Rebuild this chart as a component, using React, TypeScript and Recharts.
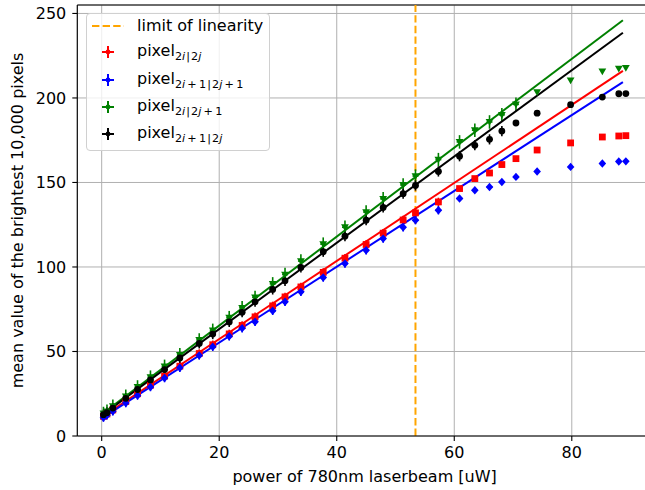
import React from 'react';
import { ComposedChart, Scatter, Line, XAxis, YAxis, CartesianGrid, ReferenceLine, ErrorBar, Legend, Label } from 'recharts';

// laser power [uW]
const power = [0.3, 0.9, 1.9, 4.1, 6.1, 8.3, 10.7, 13.3, 16.6, 18.9, 21.7, 23.9, 26.1, 29.1, 31.2, 33.9, 37.7, 41.4, 45.0, 47.9, 51.3, 53.4, 57.3, 60.9, 63.5, 66.0, 68.1, 70.5, 74.1, 79.8, 85.2, 88.0, 89.2];

const redMean = [11.6, 13.0, 15.4, 20.4, 25.0, 30.0, 35.4, 41.3, 48.8, 54.0, 60.4, 65.4, 70.5, 77.0, 82.3, 88.2, 96.8, 105.2, 113.3, 120.0, 127.8, 132.0, 138.5, 146.4, 152.3, 155.6, 160.6, 164.1, 169.2, 173.4, 176.9, 177.5, 177.7];
const blueMean = [10.9, 12.3, 14.6, 19.5, 24.0, 29.0, 34.3, 40.4, 47.7, 52.8, 59.0, 63.8, 67.6, 74.1, 79.4, 85.3, 93.8, 102.1, 109.9, 116.8, 123.5, 127.7, 133.6, 140.5, 145.4, 147.3, 150.3, 153.3, 156.5, 159.2, 161.2, 162.4, 162.5];
const greenMean = [13.3, 14.6, 17.6, 23.5, 29.0, 34.8, 41.2, 48.0, 56.8, 62.5, 70.0, 75.8, 82.0, 90.0, 95.5, 103.5, 113.5, 123.5, 132.5, 140.3, 148.5, 153.8, 163.5, 174.0, 180.9, 185.8, 190.0, 196.2, 203.5, 210.4, 215.7, 217.3, 217.8];
const blackMean = [12.6, 13.8, 16.5, 22.3, 27.5, 33.2, 39.3, 46.2, 54.8, 60.3, 67.5, 73.2, 79.4, 86.7, 91.8, 99.7, 109.0, 118.2, 127.7, 135.2, 143.4, 148.2, 156.5, 165.5, 172.0, 175.5, 180.4, 185.2, 191.0, 196.0, 200.5, 202.5, 202.6];

// error estimates
const xErr = [0.5, 0.5, 0.5, 0.5, 0.5, 0.5, 0.5, 0.5, 0.5, 0.5, 0.5, 0.5, 0.5, 0.5, 0.5, 0.5, 0.5, 0.5, 0.5, 0.5, 0.5, 0.5, 0.5, 0.5, 0.5, 0.5, 0.5, 0.5, 0, 0, 0, 0, 0];
const redErr = [2.5, 2.5, 2.5, 2.5, 2.5, 2.5, 2.5, 2.5, 2.5, 2.5, 2.5, 2.5, 2.5, 2.5, 2.5, 2.5, 2.5, 2.5, 2.5, 2.5, 2.5, 2.5, 2.5, 0, 0, 0, 0, 0, 0, 0, 0, 0, 0];
const blueErr = [2.5, 2.5, 2.5, 2.5, 2.5, 2.5, 2.5, 2.5, 2.5, 2.5, 2.5, 2.5, 2.5, 2.5, 2.5, 2.5, 2.5, 2.5, 2.5, 2.5, 2.5, 2.5, 2.5, 0, 0, 0, 0, 0, 0, 0, 0, 0, 0];
const greenErr = [4, 4, 4, 4, 4, 4, 4, 4, 4, 4, 4, 4, 4, 4, 4, 4, 4, 4, 4, 4, 4, 4, 4, 4, 4, 4, 4, 4, 0, 0, 0, 0, 0];
const blackErr = [3, 3, 3, 3, 3, 3, 3, 3, 3, 3, 3, 3, 3, 3, 3, 3, 3, 3, 3, 3, 3, 3, 3, 3, 3, 3, 3, 0, 0, 0, 0, 0, 0];

// linear fits, endpoints
const fitX = [0, 88.7];
const redFit = [11.2, 216.0];
const blueFit = [10.4, 209.4];
const greenFit = [12.8, 246.0];
const blackFit = [12.2, 238.6];

const limitOfLinearity = 53.4;

const xTicks = [0, 20, 40, 60, 80];
const yTicks = [0, 50, 100, 150, 200, 250];

const legendSubs = ['2i|2j', '2i+1|2j+1', '2i|2j+1', '2i+1|2j'];
const seriesColors = ['#ff0000', '#0000ff', '#008000', '#000000'];

const FONT = 'DejaVu Sans';
const FS = 16;

const toRows = (ys: number[], errs: number[]) =>
  power.map((x, i) => ({ x, y: ys[i], ex: xErr[i], ey: errs[i] }));
const toFit = (ys: number[]) => fitX.map((x, i) => ({ x, y: ys[i] }));

const Square = ({ cx, cy, fill }: any) => <rect x={cx - 3.4} y={cy - 3.4} width={6.8} height={6.8} fill={fill} />;
const Diamond = ({ cx, cy, fill }: any) => (
  <polygon points={`${cx},${cy - 4.2} ${cx + 3.8},${cy} ${cx},${cy + 4.2} ${cx - 3.8},${cy}`} fill={fill} />
);
const TriDown = ({ cx, cy, fill }: any) => (
  <polygon points={`${cx - 3.9},${cy - 2.9} ${cx + 3.9},${cy - 2.9} ${cx},${cy + 3.9}`} fill={fill} />
);
const Dot = ({ cx, cy, fill }: any) => <circle cx={cx} cy={cy} r={3.4} fill={fill} />;

const Sub = ({ s }: { s: string }) => {
  const parts: React.ReactNode[] = [];
  s.split('').forEach((c, i) => {
    if (c === 'i' || c === 'j') parts.push(<i key={i}>{c}</i>);
    else if (c === '+') parts.push(<span key={i}>{'\u2009+\u2009'}</span>);
    else if (c === '|') parts.push(<span key={i}>{'\u200a|\u200a'}</span>);
    else parts.push(<span key={i}>{c}</span>);
  });
  return <span style={{ fontSize: 11.2, position: 'relative', top: 4 }}>{parts}</span>;
};

const renderLegend = () => {
  const rowTops = [13, 40, 68, 95, 122];
  return (
    <div
      style={{
        position: 'relative',
        width: 184,
        height: 138,
        boxSizing: 'border-box',
        background: 'rgba(255,255,255,0.8)',
        border: '1px solid #d0d0d0',
        borderRadius: 4,
        fontFamily: FONT,
        fontSize: FS,
        color: '#000',
      }}
    >
      <svg width={184} height={138} style={{ position: 'absolute', left: -1, top: -1 }}>
        <line x1={6} x2={38} y1={rowTops[0]} y2={rowTops[0]} stroke="#ffa500" strokeWidth={2} strokeDasharray="7.4 3.2" />
        {seriesColors.map((c, i) => {
          const cy = rowTops[i + 1] - 1;
          return (
            <g key={c}>
              <line x1={16} x2={28} y1={cy} y2={cy} stroke={c} strokeWidth={2} />
              <line x1={22} x2={22} y1={cy - 6} y2={cy + 6} stroke={c} strokeWidth={2} />
              <circle cx={22} cy={cy} r={2.4} fill={c} />
            </g>
          );
        })}
      </svg>
      <div style={{ position: 'absolute', left: 50, top: rowTops[0] - 11, whiteSpace: 'nowrap', lineHeight: '19px' }}>
        limit of linearity
      </div>
      {legendSubs.map((s, i) => (
        <div
          key={s}
          style={{ position: 'absolute', left: 50, top: rowTops[i + 1] - 13, whiteSpace: 'nowrap', lineHeight: '19px' }}
        >
          pixel<Sub s={s} />
        </div>
      ))}
    </div>
  );
};

export default function App() {
  const series = [
    { rows: toRows(redMean, redErr), fit: toFit(redFit), color: seriesColors[0], shape: Square },
    { rows: toRows(blueMean, blueErr), fit: toFit(blueFit), color: seriesColors[1], shape: Diamond },
    { rows: toRows(greenMean, greenErr), fit: toFit(greenFit), color: seriesColors[2], shape: TriDown },
    { rows: toRows(blackMean, blackErr), fit: toFit(blackFit), color: seriesColors[3], shape: Dot },
  ];

  const tickStyle = { fill: '#000', fontSize: FS, fontFamily: FONT };

  return (
    <div style={{ position: 'absolute', left: 0, top: 0, width: 645, height: 490, overflow: 'hidden', background: '#fff' }}>
      <ComposedChart width={660} height={490} margin={{ top: 5, right: 8, bottom: 0, left: 0 }}>
        <CartesianGrid stroke="#b0b0b0" strokeWidth={1} />
        <XAxis
          type="number"
          dataKey="x"
          domain={[-4.15, 93.65]}
          allowDataOverflow
          ticks={xTicks}
          height={54}
          tick={tickStyle}
          tickSize={5}
          tickMargin={6}
          axisLine={{ stroke: '#000', strokeWidth: 1.1 }}
          tickLine={{ stroke: '#000', strokeWidth: 1.1 }}
        >
          <Label
            content={() => (
              <text x={364.6} y={476} textAnchor="middle" dominantBaseline="central" fontSize={FS} fontFamily={FONT} fill="#000">
                power of 780nm laserbeam [uW]
              </text>
            )}
          />
        </XAxis>
        <YAxis
          type="number"
          dataKey="y"
          domain={[0, 255]}
          allowDataOverflow
          ticks={yTicks}
          width={77.3}
          tick={tickStyle}
          tickSize={5}
          tickMargin={6}
          axisLine={{ stroke: '#000', strokeWidth: 1.1 }}
          tickLine={{ stroke: '#000', strokeWidth: 1.1 }}
        >
          <Label
            content={() => (
              <text
                x={17}
                y={220.5}
                transform="rotate(-90 17 220.5)"
                textAnchor="middle"
                dominantBaseline="central"
                fontSize={FS}
                fontFamily={FONT}
                fill="#000"
              >
                mean value of the brightest 10,000 pixels
              </text>
            )}
          />
        </YAxis>
        <ReferenceLine y={255} stroke="#000" strokeWidth={1.1} />
        <ReferenceLine x={limitOfLinearity} stroke="#ffa500" strokeWidth={2} strokeDasharray="7.4 3.2" />
        {series.map((s, i) => (
          <Scatter key={`sc${i}`} data={s.rows} fill={s.color} shape={s.shape} isAnimationActive={false}>
            <ErrorBar dataKey="ey" direction="y" width={0} stroke={s.color} strokeWidth={1.6} isAnimationActive={false} />
            <ErrorBar dataKey="ex" direction="x" width={0} stroke={s.color} strokeWidth={1.6} isAnimationActive={false} />
          </Scatter>
        ))}
        {series.map((s, i) => (
          <Line
            key={`fit${i}`}
            data={s.fit}
            dataKey="y"
            type="linear"
            stroke={s.color}
            strokeWidth={2}
            dot={false}
            activeDot={false}
            isAnimationActive={false}
          />
        ))}
        <Legend
          layout="vertical"
          align="center"
          verticalAlign="middle"
          content={renderLegend}
          wrapperStyle={{ left: 86, top: 13, width: 184, height: 138 }}
        />
      </ComposedChart>
    </div>
  );
}
